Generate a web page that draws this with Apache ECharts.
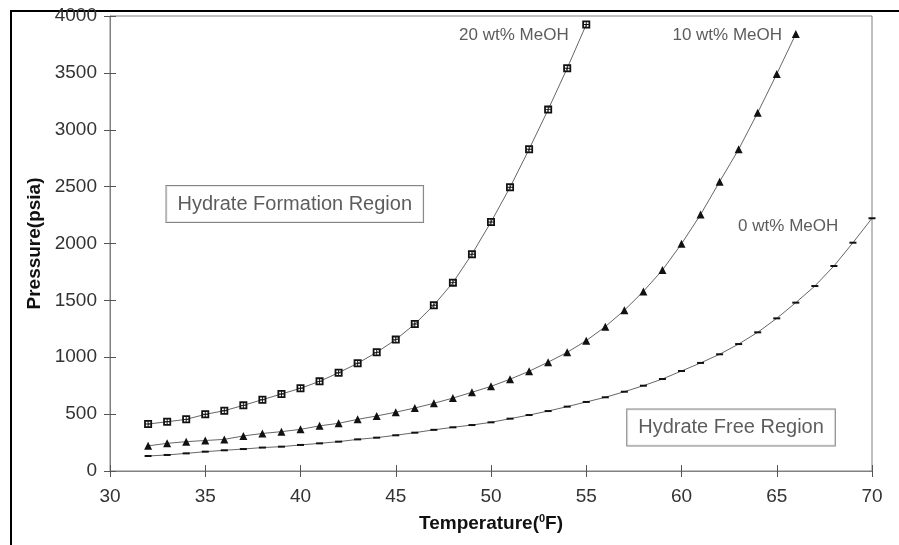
<!DOCTYPE html>
<html>
<head>
<meta charset="utf-8">
<script src="https://cdn.jsdelivr.net/npm/echarts@6/dist/echarts.min.js"></script>
<style>
  html, body { margin: 0; padding: 0; background: #fff; }
  #main { width: 899px; height: 545px; }
</style>
</head>
<body>
<div id="main"></div>
<script>
// temperatures (deg F), one point per degree
var temps = [32, 33, 34, 35, 36, 37, 38, 39, 40, 41, 42, 43, 44, 45, 46, 47, 48, 49, 50,
  51, 52, 53, 54, 55, 56, 57, 58, 59, 60, 61, 62, 63, 64, 65, 66, 67, 68, 69, 70];

// hydrate pressure (psia)
var meoh20 = [413, 433, 454, 498, 530, 577, 627, 677, 727, 788, 864, 947, 1043, 1155,
  1292, 1458, 1656, 1906, 2189, 2494, 2829, 3177, 3541, 3925];
var meoh10 = [221, 243, 258, 268, 278, 308, 330, 346, 366, 397, 419, 454, 484, 517, 554,
  595, 641, 692, 744, 807, 877, 957, 1043, 1146, 1269, 1413, 1579, 1767, 1997, 2254,
  2543, 2828, 3150, 3490, 3842];
var meoh0 = [132, 141, 155, 170, 182, 193, 206, 214, 229, 243, 258, 278, 293, 314, 337,
  362, 384, 404, 428, 460, 492, 527, 566, 607, 648, 697, 750, 809, 879, 950, 1026, 1116,
  1219, 1342, 1480, 1626, 1802, 2007, 2222];

// curve labels and region boxes, in data units [T, P]
var curveLabels = [
  ['20 wt% MeOH', 51.2, 3833],
  ['10 wt% MeOH', 62.4, 3833],
  ['0 wt% MeOH', 65.6, 2154]
];
var regionLabels = [
  ['Hydrate Formation Region', 39.7, 2347],
  ['Hydrate Free Region', 62.6, 382]
];

function pairs(vals) {
  return vals.map(function (v, i) { return [temps[i], v]; });
}

var hatchSquare = 'path://M0,0H10V10H0Z M2.2,2.2V4.4H4.4V2.2Z M5.6,2.2V4.4H7.8V2.2Z M2.2,5.6V7.8H4.4V5.6Z M5.6,5.6V7.8H7.8V5.6Z';
var font = 'Liberation Sans, Arial, sans-serif';

var chart = echarts.init(document.getElementById('main'), null, { renderer: 'canvas' });

function curve(name, vals, symbol, size) {
  return {
    name: name,
    type: 'line',
    data: pairs(vals),
    symbol: symbol,
    symbolSize: size,
    showSymbol: true,
    itemStyle: { color: '#111' },
    lineStyle: { color: '#666', width: 1 },
    z: 3
  };
}

var option = {
  animation: false,
  backgroundColor: '#fff',
  textStyle: { fontFamily: font },
  grid: {
    left: 110, right: 27, top: 16, bottom: 74,
    show: true, borderColor: '#808080', borderWidth: 1
  },
  xAxis: [{
    type: 'value', min: 30, max: 70, interval: 5,
    axisLine: { lineStyle: { color: '#808080' } },
    axisTick: { length: 6, lineStyle: { color: '#555' } },
    axisLabel: { fontSize: 19, color: '#333', margin: 16, fontFamily: font },
    splitLine: { show: false },
    name: '{a|Temperature(}{s|0}{a|F)}',
    nameLocation: 'middle',
    nameGap: 42,
    nameTextStyle: {
      rich: {
        a: { fontSize: 19, fontWeight: 'bold', color: '#111', fontFamily: font },
        s: { fontSize: 11, fontWeight: 'bold', color: '#111', fontFamily: font, padding: [0, 0, 11, 0] }
      }
    }
  }, {
    type: 'value', min: 30, max: 70, interval: 5, position: 'bottom',
    axisLine: { show: false },
    axisTick: { inside: true, length: 6, lineStyle: { color: '#555' } },
    axisLabel: { show: false },
    splitLine: { show: false }
  }],
  yAxis: [{
    type: 'value', min: 0, max: 4000, interval: 500,
    axisLine: { show: true, lineStyle: { color: '#808080' } },
    axisTick: { show: true, length: 6, lineStyle: { color: '#555' } },
    axisLabel: {
      fontSize: 19, color: '#333', margin: 13, fontFamily: font,
      formatter: function (v) { return String(v); }
    },
    splitLine: { show: false },
    name: 'Pressure(psia)',
    nameLocation: 'middle',
    nameGap: 66,
    nameTextStyle: { fontSize: 19, fontWeight: 'bold', color: '#111', fontFamily: font }
  }, {
    type: 'value', min: 0, max: 4000, interval: 500, position: 'left',
    axisLine: { show: false },
    axisTick: { show: true, inside: true, length: 6, lineStyle: { color: '#555' } },
    axisLabel: { show: false },
    splitLine: { show: false }
  }],
  graphic: [{
    type: 'rect',
    shape: { x: 11, y: 11, width: 1000, height: 1000 },
    style: { fill: 'none', stroke: '#000', lineWidth: 2 },
    silent: true
  }],
  series: [
    curve('20 wt% MeOH', meoh20, hatchSquare, 8),
    curve('10 wt% MeOH', meoh10, 'triangle', 8),
    curve('0 wt% MeOH', meoh0, 'rect', [7, 2]),
    {
      type: 'scatter',
      data: curveLabels.map(function (d) { return { name: d[0], value: [d[1], d[2]] }; }),
      symbolSize: 0,
      label: {
        show: true, position: 'inside', formatter: '{b}',
        fontSize: 17, color: '#333', fontFamily: font
      },
      silent: true
    },
    {
      type: 'scatter',
      data: regionLabels.map(function (d) { return { name: d[0], value: [d[1], d[2]] }; }),
      symbolSize: 0,
      label: {
        show: true, position: 'inside', formatter: '{b}',
        fontSize: 20, color: '#333', fontFamily: font,
        backgroundColor: '#fff', borderColor: '#666', borderWidth: 1,
        padding: [8, 11]
      },
      silent: true
    }
  ]
};

chart.setOption(option);
</script>
</body>
</html>
